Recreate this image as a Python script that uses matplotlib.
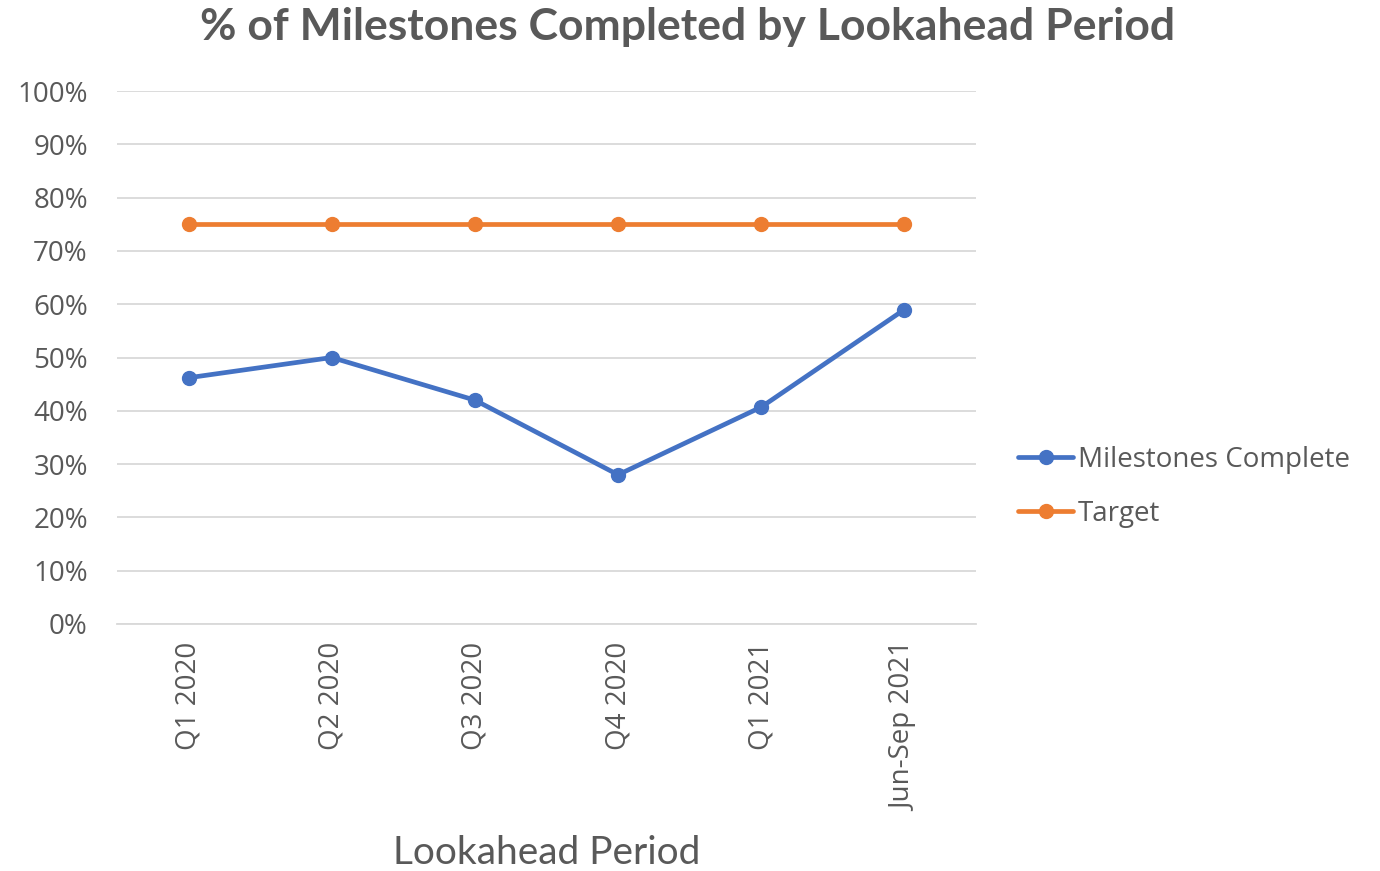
import matplotlib
matplotlib.use("Agg")
import matplotlib.pyplot as plt
from matplotlib.ticker import FuncFormatter

categories = ["Q1 2020", "Q2 2020", "Q3 2020", "Q4 2020", "Q1 2021", "Jun-Sep 2021"]
milestones_complete = [0.462, 0.50, 0.42, 0.28, 0.407, 0.59]
target = [0.75, 0.75, 0.75, 0.75, 0.75, 0.75]
y_ticks = [0, 0.1, 0.2, 0.3, 0.4, 0.5, 0.6, 0.7, 0.8, 0.9, 1.0]

TEXT = "#595959"
BLUE = "#4472C4"
ORANGE = "#ED7D31"
GRID = "#D9D9D9"

fig = plt.figure(figsize=(13.8, 8.71), dpi=100)
ax = fig.add_axes([117/1380, 1-624/871, (976-117)/1380, (624-91)/871])

x = list(range(len(categories)))
ax.plot(x, milestones_complete, color=BLUE, lw=3.4, marker="o", ms=10,
        label="Milestones Complete", solid_capstyle="round", zorder=3)
ax.plot(x, target, color=ORANGE, lw=3.4, marker="o", ms=10,
        label="Target", solid_capstyle="round", zorder=3)

ax.set_xlim(-0.5, len(categories) - 0.5)
ax.set_ylim(0, 1.0)
ax.set_yticks(y_ticks)
ax.yaxis.set_major_formatter(FuncFormatter(lambda v, p: f"{v*100:.0f}%"))
ax.set_xticks(x)
ax.set_xticklabels(categories, rotation=90, fontfamily="Open Sans", fontsize=20, color=TEXT)
for lab in ax.get_yticklabels():
    lab.set_fontfamily("Open Sans")
    lab.set_fontsize(20)
    lab.set_color(TEXT)
ax.tick_params(axis="both", length=0)
ax.tick_params(axis="y", pad=21)
ax.tick_params(axis="x", pad=13)
ax.grid(axis="y", color=GRID, lw=1.3)
ax.set_axisbelow(True)
for s in ["top", "right", "left"]:
    ax.spines[s].set_visible(False)
ax.spines["bottom"].set_color(GRID)
ax.spines["bottom"].set_linewidth(1.3)

fig.text(688/1380, 1-27/871, "% of Milestones Completed by Lookahead Period",
         ha="center", va="center", fontsize=32, fontweight="bold",
         fontfamily="Lato", color=TEXT)
fig.text(547/1380, 1-853/871, "Lookahead Period", ha="center", va="center",
         fontsize=28, fontfamily="Lato", color=TEXT)

leg = ax.legend(loc="center left", bbox_to_anchor=(1004/1380, 1-487/871),
                bbox_transform=fig.transFigure, frameon=False,
                prop={"family": "Open Sans", "size": 20}, handlelength=2.0,
                handletextpad=0.15, labelspacing=0.95, borderpad=0)
for t in leg.get_texts():
    t.set_color(TEXT)

fig.savefig("out.png", dpi=100)
